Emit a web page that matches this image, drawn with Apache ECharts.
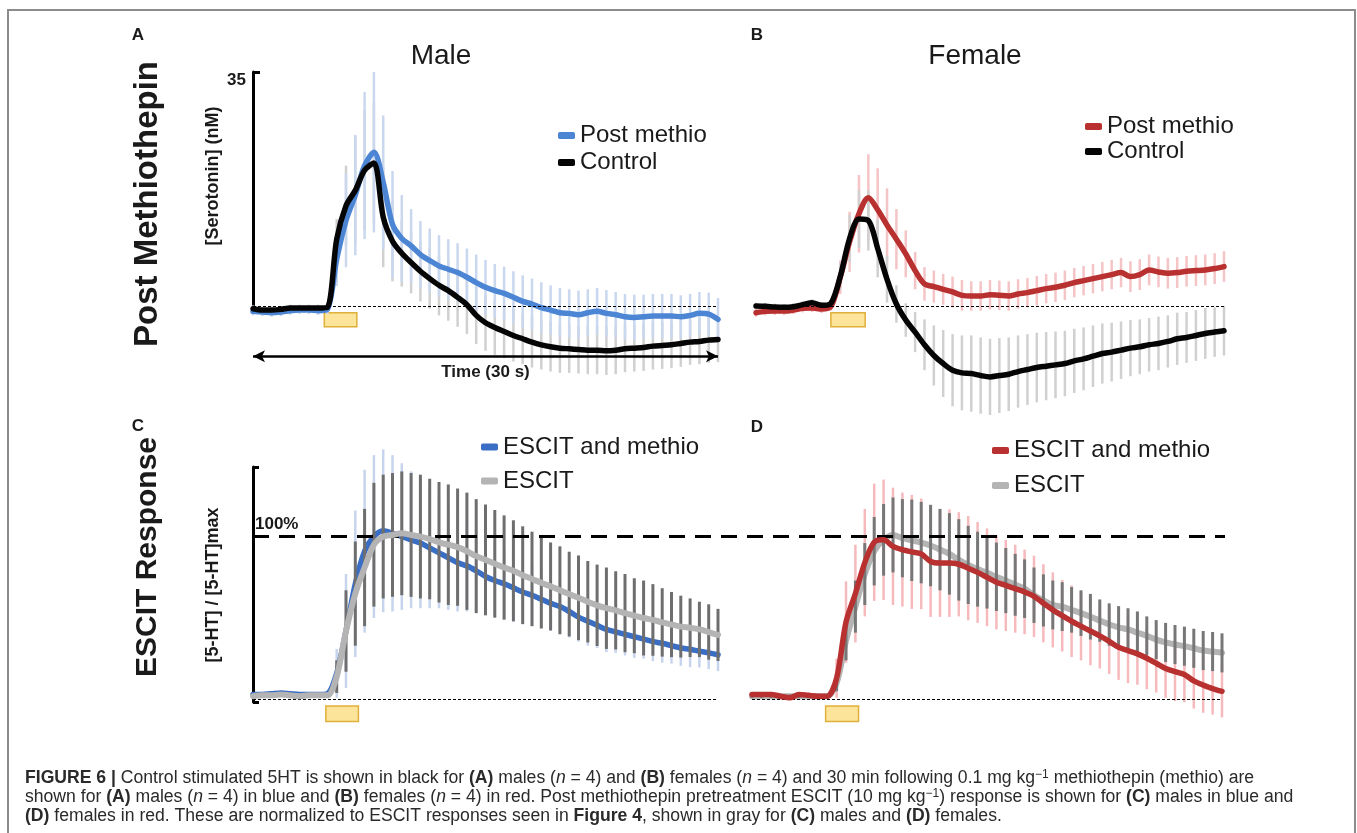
<!DOCTYPE html>
<html><head><meta charset="utf-8">
<script src="https://cdn.jsdelivr.net/npm/echarts@6/dist/echarts.min.js"></script>
<style>html,body{margin:0;padding:0;background:#fff}#c{width:1357px;height:833px}</style>
</head><body><div id="c"></div>
<script>
const FONT = '"Liberation Sans", Arial, sans-serif';

// time axis (s)
const timeS = [0,0.6,1.2,1.8,2.4,3,3.6,4.2,4.8,5.4,6,6.6,7.2,7.8,8.4,9,9.6,10.2,10.8,11.4,12,12.6,13.2,13.8,14.4,15,15.6,16.2,16.8,17.4,18,18.6,19.2,19.8,20.4,21,21.6,22.2,22.8,23.4,24,24.6,25.2,25.8,26.4,27,27.6,28.2,28.8,29.4,30];

// Panel A (male, nM)
const maleMethio = [-0.8,-0.9,-1.0,-0.9,-0.7,-0.6,-0.6,-0.7,-0.5,7.0,12.8,16.6,21.0,23.0,18.5,12.2,10.1,9.0,7.7,6.8,6.0,5.5,5.0,4.3,3.5,2.8,2.3,1.9,1.3,0.7,0.3,-0.25,-0.6,-1.0,-1.1,-1.3,-1.0,-0.8,-1.1,-1.3,-1.6,-1.7,-1.6,-1.5,-1.5,-1.5,-1.6,-1.4,-1.1,-1.2,-2.0];
const maleMethioErr = [0.6,0.6,0.6,0.6,0.6,0.6,0.6,0.6,0.7,4,7,9,11,12,10,8,6.5,5.5,5,4.8,4.6,4.5,4.4,4.3,4.2,4.1,4,4,3.9,3.9,3.8,3.8,3.7,3.7,3.6,3.6,3.5,3.5,3.5,3.4,3.4,3.4,3.3,3.3,3.3,3.3,3.2,3.2,3.2,3.2,3.2];
const maleControl = [-0.4,-0.6,-0.6,-0.5,-0.3,-0.3,-0.3,-0.3,-0.2,10.0,15.0,17.3,20.3,21.4,13.3,9.7,7.9,6.5,5.2,4.1,3.1,2.3,1.3,0.2,-1.4,-2.5,-3.2,-3.8,-4.4,-4.9,-5.4,-5.8,-6.1,-6.3,-6.4,-6.5,-6.6,-6.6,-6.7,-6.6,-6.4,-6.3,-6.2,-6.0,-5.9,-5.8,-5.6,-5.4,-5.3,-5.1,-5.0];
const maleControlErr = [0.5,0.5,0.5,0.5,0.5,0.5,0.5,0.5,0.5,3,6,8,9,9,7.5,6,5,4.6,4.5,4.5,4.5,4.5,4.4,4.4,4.3,4.2,4.1,4.0,3.9,3.8,3.8,3.7,3.7,3.7,3.6,3.6,3.6,3.6,3.6,3.6,3.5,3.5,3.5,3.5,3.5,3.5,3.5,3.4,3.4,3.4,3.4];

// Panel B (female, nM)
const femaleMethio = [-1.0,-0.8,-0.75,-0.75,-0.6,-0.35,-0.3,-0.45,-0.1,4.3,9.6,13.8,16.2,14.4,12.1,10.0,7.8,5.3,3.3,2.9,2.5,2.1,1.6,1.5,1.5,1.7,1.6,1.5,1.8,2.0,2.3,2.6,2.8,3.1,3.5,3.8,4.1,4.4,4.7,5.0,4.4,4.7,5.4,5.1,4.9,5.0,5.2,5.3,5.4,5.6,5.9];
const femaleMethioErr = [0.6,0.6,0.6,0.6,0.6,0.6,0.6,0.6,0.6,2.5,4.5,5.8,6.5,6.2,5.5,4.5,3.5,2.8,2.5,2.4,2.3,2.3,2.3,2.2,2.2,2.2,2.2,2.2,2.2,2.2,2.2,2.2,2.2,2.2,2.2,2.2,2.2,2.2,2.2,2.2,2.3,2.3,2.3,2.3,2.3,2.3,2.3,2.3,2.3,2.3,2.3];
const femaleControl = [0,-0.05,-0.15,-0.2,-0.1,0.2,0.5,0.1,0.4,4.4,10.1,13.0,12.8,8.6,4.0,0.3,-2.1,-3.9,-5.8,-7.4,-8.6,-9.6,-10.0,-10.1,-10.4,-10.6,-10.4,-10.2,-9.8,-9.5,-9.2,-9.0,-8.8,-8.6,-8.2,-7.9,-7.5,-7.1,-6.9,-6.6,-6.3,-6.1,-5.8,-5.6,-5.3,-4.9,-4.7,-4.4,-4.1,-3.9,-3.7];
const femaleControlErr = [0.5,0.5,0.5,0.5,0.5,0.5,0.5,0.5,0.5,2,3.5,4.3,4.5,4.3,3.5,2.8,2.5,3,3.8,4.5,5.0,5.4,5.6,5.7,5.7,5.7,5.6,5.5,5.4,5.3,5.2,5.1,5.0,4.9,4.8,4.7,4.6,4.5,4.4,4.3,4.2,4.1,4.0,4.0,3.9,3.9,3.8,3.8,3.8,3.7,3.7];

// Panel C (male, normalized)
const maleEscitMethio = [0.03,0.03,0.035,0.04,0.035,0.03,0.03,0.03,0.035,0.16,0.42,0.71,0.91,1.0,1.035,1.02,1.0,0.98,0.96,0.93,0.90,0.87,0.84,0.82,0.79,0.755,0.73,0.71,0.685,0.66,0.64,0.615,0.59,0.57,0.54,0.505,0.48,0.455,0.43,0.415,0.40,0.385,0.37,0.355,0.345,0.33,0.316,0.308,0.296,0.286,0.274];
const maleEscitMethioErr = [0.015,0.015,0.015,0.015,0.015,0.015,0.015,0.015,0.015,0.15,0.35,0.45,0.5,0.5,0.5,0.48,0.45,0.42,0.4,0.37,0.34,0.32,0.3,0.28,0.26,0.24,0.23,0.22,0.21,0.2,0.19,0.18,0.17,0.16,0.16,0.15,0.15,0.14,0.14,0.13,0.13,0.13,0.12,0.12,0.12,0.11,0.11,0.11,0.1,0.1,0.1];
const maleEscit = [0.02,0.025,0.025,0.03,0.025,0.02,0.025,0.025,0.025,0.14,0.42,0.65,0.81,0.95,1.0,1.01,1.02,1.01,1.0,0.985,0.965,0.95,0.935,0.91,0.88,0.857,0.833,0.81,0.79,0.763,0.74,0.716,0.694,0.67,0.647,0.624,0.6,0.578,0.56,0.547,0.53,0.514,0.5,0.488,0.473,0.46,0.447,0.44,0.43,0.414,0.396];
const maleEscitErr = [0.01,0.01,0.01,0.01,0.01,0.01,0.01,0.01,0.01,0.1,0.25,0.32,0.36,0.38,0.38,0.38,0.38,0.38,0.38,0.37,0.37,0.37,0.36,0.36,0.35,0.34,0.33,0.32,0.31,0.3,0.29,0.28,0.27,0.27,0.26,0.26,0.25,0.25,0.25,0.24,0.24,0.23,0.23,0.22,0.21,0.2,0.19,0.18,0.17,0.17,0.16];

// Panel D (female, normalized)
const femaleEscitMethio = [0.03,0.03,0.03,0.02,0.01,0.03,0.025,0.02,0.02,0.13,0.475,0.65,0.84,0.965,0.98,0.94,0.92,0.906,0.894,0.847,0.837,0.837,0.83,0.806,0.78,0.75,0.72,0.70,0.68,0.66,0.633,0.59,0.55,0.514,0.48,0.45,0.42,0.39,0.357,0.32,0.30,0.28,0.253,0.222,0.19,0.17,0.153,0.114,0.088,0.067,0.05];
const femaleEscitMethioErr = [0.015,0.015,0.015,0.015,0.015,0.015,0.015,0.015,0.015,0.12,0.25,0.3,0.33,0.36,0.37,0.36,0.35,0.35,0.34,0.34,0.33,0.33,0.32,0.32,0.31,0.3,0.29,0.28,0.27,0.26,0.25,0.24,0.23,0.22,0.22,0.21,0.21,0.2,0.2,0.2,0.2,0.19,0.19,0.18,0.18,0.18,0.17,0.17,0.17,0.16,0.16];
const femaleEscit = [0.02,0.02,0.02,0.02,0.02,0.02,0.02,0.02,0.02,0.1,0.36,0.57,0.77,0.91,0.98,1.01,0.99,0.977,0.963,0.945,0.92,0.894,0.857,0.826,0.80,0.778,0.753,0.73,0.704,0.68,0.64,0.608,0.58,0.57,0.55,0.53,0.508,0.484,0.46,0.443,0.43,0.41,0.39,0.367,0.35,0.337,0.327,0.314,0.30,0.294,0.286];
const femaleEscitErr = [0.01,0.01,0.01,0.01,0.01,0.01,0.01,0.01,0.01,0.05,0.12,0.16,0.19,0.21,0.22,0.23,0.24,0.25,0.25,0.25,0.25,0.25,0.25,0.24,0.23,0.22,0.21,0.2,0.19,0.18,0.17,0.16,0.15,0.15,0.14,0.14,0.14,0.13,0.13,0.13,0.13,0.13,0.12,0.12,0.12,0.12,0.12,0.12,0.12,0.12,0.12];

// stimulation windows (s) and marker bands
const stimA = [4.6, 6.7], stimB = [4.8, 7.0], stimC = [4.7, 6.8], stimD = [4.7, 6.8];
const stimBandNM = [-1.0, -3.1], stimBandNorm = [-0.04, -0.135];
const yTickTop = [35];
const timeArrowLevel = -7.5;
const fullScale = 1;

const C_BLUE = '#4c85d4', C_BLUE2 = '#3a6ec4', C_RED = '#b8302f', C_GRAY = '#b4b4b4', C_BLACK = '#050505';

function lineS(name, g, vals, color, width, z, extra) {
  return Object.assign({
    type: 'line', name, xAxisIndex: g, yAxisIndex: g, z, silent: true,
    data: timeS.map((t, i) => [t, vals[i]]),
    showSymbol: false, symbol: 'none', smooth: 0.3, color,
    lineStyle: { color, width, cap: 'round', join: 'round' }
  }, extra || {});
}
function errS(name, g, vals, err, color, width, z, extra) {
  return Object.assign({
    type: 'custom', name, xAxisIndex: g, yAxisIndex: g, z, silent: true,
    data: timeS.map((t, i) => [t, vals[i] - err[i], vals[i] + err[i]]),
    encode: { x: 0, y: [1, 2] },
    renderItem: function (params, api) {
      const p1 = api.coord([api.value(0), api.value(1)]);
      const p2 = api.coord([api.value(0), api.value(2)]);
      return { type: 'line', shape: { x1: p1[0], y1: p1[1], x2: p2[0], y2: p2[1] }, style: { stroke: color, lineWidth: width } };
    }
  }, extra || {});
}
const baseLine = { silent: true, symbol: 'none', label: { show: false }, lineStyle: { color: '#000', width: 1.2, type: [3, 2] }, data: [{ yAxis: 0 }] };
function stimArea(win, band) {
  return { silent: true, itemStyle: { color: '#fde49b', borderColor: '#dfb03a', borderWidth: 1.5 },
    data: [[{ coord: [win[0], band[0]] }, { coord: [win[1], band[1]] }]] };
}
function legendAt(names, left, top, lh) {
  return { left, top, orient: 'vertical', itemGap: 0, itemWidth: 17, itemHeight: 7, icon: 'roundRect',
    selectedMode: false, padding: 0, data: names, formatter: n => n.slice(2),
    textStyle: { fontSize: 24, color: '#1a1a1a', fontFamily: FONT, lineHeight: lh } };
}
function txt(text, x, y, size, weight, rot, extra) {
  return { type: 'text', x, y, rotation: rot || 0, silent: true,
    style: Object.assign({ text, fontSize: size, fontWeight: weight || 'normal', fontFamily: FONT, fill: '#1a1a1a', align: 'center', verticalAlign: 'middle' }, extra || {}) };
}

const CAP_SIZE = 17.6;
const capRich = {
  b: { fontWeight: 'bold', fontSize: CAP_SIZE, fontFamily: FONT, fill: '#2a2a2a', lineHeight: 19 },
  i: { fontStyle: 'italic', fontSize: CAP_SIZE, fontFamily: FONT, fill: '#2a2a2a', lineHeight: 19 },
  s: { fontSize: 12, fontFamily: FONT, fill: '#2a2a2a', lineHeight: 12, verticalAlign: 'top' }
};
function cap(text, y) {
  return { type: 'text', x: 25, y, silent: true,
    style: { text, rich: capRich, fontSize: CAP_SIZE, fontFamily: FONT, fill: '#2a2a2a', lineHeight: 19, align: 'left', verticalAlign: 'middle' } };
}

const option = {
  animation: false,
  backgroundColor: '#fff',
  grid: [
    { left: 253, top: 72, width: 465, height: 341 },
    { left: 756, top: 72, width: 468, height: 341 },
    { left: 253, top: 447, width: 465, height: 285 },
    { left: 752, top: 447, width: 470, height: 285 },
    { left: 253, top: 72, width: 465, height: 236 },
    { left: 253, top: 467, width: 465, height: 235 },
    { left: 253, top: 447, width: 972, height: 285 }
  ],
  xAxis: [0, 1, 2, 3, 4, 5, 6].map(g => ({ type: 'value', gridIndex: g, min: 0, max: 30, show: false })),
  yAxis: [
    { type: 'value', gridIndex: 0, min: -16, max: 35, show: false },
    { type: 'value', gridIndex: 1, min: -16, max: 35, show: false },
    { type: 'value', gridIndex: 2, min: -0.2, max: 1.55, show: false },
    { type: 'value', gridIndex: 3, min: -0.2, max: 1.55, show: false },
    { type: 'value', gridIndex: 4, min: 0, max: 35, splitLine: { show: false },
      axisLine: { show: true, lineStyle: { color: '#000', width: 3 } },
      axisTick: { show: true, customValues: yTickTop, inside: true, length: 7, lineStyle: { color: '#000', width: 3 } },
      axisLabel: { show: true, customValues: yTickTop, fontSize: 17, fontWeight: 'bold', color: '#1a1a1a', fontFamily: FONT, margin: 7, verticalAlign: 'top' } },
    { type: 'value', gridIndex: 5, min: 0, max: 1, splitLine: { show: false },
      axisLine: { show: true, lineStyle: { color: '#000', width: 3 } },
      axisTick: { show: true, customValues: [0, 1], inside: true, length: 6, lineStyle: { color: '#000', width: 3 } },
      axisLabel: { show: false } },
    { type: 'value', gridIndex: 6, min: -0.2, max: 1.55, show: false }
  ],
  legend: [
    legendAt(['A Post methio', 'A Control'], 558, 122, 27),
    legendAt(['B Post methio', 'B Control'], 1085, 114, 25),
    legendAt(['C ESCIT and methio', 'C ESCIT'], 481, 430, 34),
    legendAt(['D ESCIT and methio', 'D ESCIT'], 992, 433, 35)
  ],
  series: [
    // A
    errS('A control err', 0, maleControl, maleControlErr, '#d0d0d0', 2.5, 2, { markLine: baseLine, markArea: stimArea(stimA, stimBandNM) }),
    errS('A methio err', 0, maleMethio, maleMethioErr, '#c9d7ef', 2.5, 2),
    lineS('A Post methio', 0, maleMethio, C_BLUE, 5.5, 3),
    lineS('A Control', 0, maleControl, C_BLACK, 5.5, 4, {
      markLine: { silent: true, symbol: ['arrow', 'arrow'], symbolSize: [9, 12],
        lineStyle: { color: '#000', width: 2.5, type: 'solid' },
        label: { show: true, formatter: 'Time (30 s)', position: 'insideMiddleBottom', distance: 8, fontSize: 17, fontWeight: 'bold', color: '#1a1a1a', fontFamily: FONT },
        data: [[{ coord: [0, timeArrowLevel] }, { coord: [30, timeArrowLevel] }]] } }),
    // B
    errS('B methio err', 1, femaleMethio, femaleMethioErr, '#f5c4c6', 2.5, 2, { markLine: baseLine, markArea: stimArea(stimB, stimBandNM) }),
    errS('B control err', 1, femaleControl, femaleControlErr, '#d0d0d0', 2.5, 2),
    lineS('B Post methio', 1, femaleMethio, C_RED, 5.5, 3),
    lineS('B Control', 1, femaleControl, C_BLACK, 5.5, 4),
    // C
    errS('C methio err', 2, maleEscitMethio, maleEscitMethioErr, '#c6d4ee', 2.5, 2, { markLine: baseLine, markArea: stimArea(stimC, stimBandNorm) }),
    lineS('C ESCIT and methio', 2, maleEscitMethio, C_BLUE2, 5.5, 3),
    errS('C escit err', 2, maleEscit, maleEscitErr, '#6e6e6e', 3, 4),
    lineS('C ESCIT', 2, maleEscit, C_GRAY, 6, 5),
    // D
    errS('D methio err', 3, femaleEscitMethio, femaleEscitMethioErr, '#f6b9bc', 2.5, 2, { markLine: baseLine, markArea: stimArea(stimD, stimBandNorm) }),
    lineS('D ESCIT', 3, femaleEscit, C_GRAY, 6, 3),
    errS('D escit err', 3, femaleEscit, femaleEscitErr, '#777777', 3, 4),
    lineS('D ESCIT and methio', 3, femaleEscitMethio, C_RED, 5.5, 5),
    // 100% reference across C and D
    { type: 'line', name: 'ref100', xAxisIndex: 6, yAxisIndex: 6, data: [], z: 6, silent: true, symbol: 'none',
      markLine: { silent: true, symbol: 'none', lineStyle: { color: '#000', width: 3, type: [16, 10] },
        label: { show: true, position: 'insideStartTop', formatter: '100%', fontSize: 17, fontWeight: 'bold', color: '#1a1a1a', fontFamily: FONT, distance: [2, 4] },
        data: [{ yAxis: fullScale }] } }
  ],
  graphic: [
    { type: 'rect', silent: true, shape: { x: 8, y: 10, width: 1347, height: 900 }, style: { fill: 'none', stroke: '#8c8c8c', lineWidth: 2 } },
    txt('A', 138, 35, 17, 'bold'),
    txt('B', 757, 35, 17, 'bold'),
    txt('C', 138, 426, 17, 'bold'),
    txt('D', 757, 427, 17, 'bold'),
    txt('Male', 441, 56, 28),
    txt('Female', 975, 56, 28),
    txt('Post Methiothepin', 148, 204, 33, 'bold', Math.PI / 2),
    txt('ESCIT Response', 148, 557, 30, 'bold', Math.PI / 2),
    txt('[Serotonin] (nM)', 213, 176, 18, 'bold', Math.PI / 2),
    txt('[5-HT] / [5-HT]max', 213, 585, 18, 'bold', Math.PI / 2),
    cap('{b|FIGURE 6 |} Control stimulated 5HT is shown in black for {b|(A)} males ({i|n} = 4) and {b|(B)} females ({i|n} = 4) and 30 min following 0.1 mg kg{s|−1} methiothepin (methio) are', 778),
    cap('shown for {b|(A)} males ({i|n} = 4) in blue and {b|(B)} females ({i|n} = 4) in red. Post methiothepin pretreatment ESCIT (10 mg kg{s|−1}) response is shown for {b|(C)} males in blue and', 797),
    cap('{b|(D)} females in red. These are normalized to ESCIT responses seen in {b|Figure 4}, shown in gray for {b|(C)} males and {b|(D)} females.', 816)
  ]
};

const chart = echarts.init(document.getElementById('c'), null, { renderer: 'canvas' });
chart.setOption(option);
</script>
</body></html>
